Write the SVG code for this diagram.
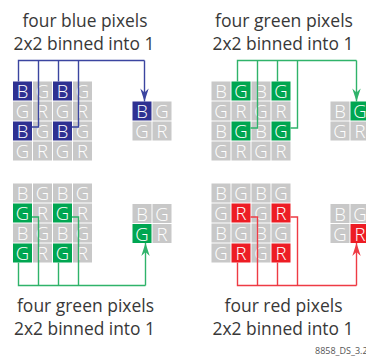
<svg xmlns="http://www.w3.org/2000/svg" width="366" height="356" viewBox="0 0 366 356">
<style>
.c{fill:#c8c8c8}
.b{fill:#2e3192}
.g{fill:#00a651}
.r{fill:#ed1c24}
.t{font-family:"Open Sans","Liberation Sans",sans-serif;font-weight:300;font-size:18.5px;fill:#fff;text-anchor:middle}
.h{font-family:"Open Sans","Liberation Sans",sans-serif;font-weight:400;font-size:19px;fill:#383838;text-anchor:middle}
.lb{fill:none;stroke:#3b45a0;stroke-width:1.4}
.lg{fill:none;stroke:#2fb36a;stroke-width:1.4}
.lr{fill:none;stroke:#ee3b44;stroke-width:1.4}
</style>
<defs>
<marker id="ab" markerUnits="userSpaceOnUse" markerWidth="16" markerHeight="12" viewBox="-14 -6 16 12" refX="0" refY="0" orient="auto"><path d="M0,0 L-13,-4.2 L-9,0 L-13,4.2 Z" fill="#3b45a0"/></marker>
<marker id="ag" markerUnits="userSpaceOnUse" markerWidth="16" markerHeight="12" viewBox="-14 -6 16 12" refX="0" refY="0" orient="auto"><path d="M0,0 L-13,-4.2 L-9,0 L-13,4.2 Z" fill="#2fb36a"/></marker>
<marker id="ar" markerUnits="userSpaceOnUse" markerWidth="16" markerHeight="12" viewBox="-14 -6 16 12" refX="0" refY="0" orient="auto"><path d="M0,0 L-13,-4.2 L-9,0 L-13,4.2 Z" fill="#ee3b44"/></marker>
</defs>

<g id="title-tl">
<text class="h" x="85" y="26.5" textLength="125" lengthAdjust="spacingAndGlyphs">four blue pixels</text>
<text class="h" x="84" y="50" textLength="141" lengthAdjust="spacingAndGlyphs">2x2 binned into 1</text>
</g>
<g id="title-tr">
<text class="h" x="284" y="26.5" textLength="138" lengthAdjust="spacingAndGlyphs">four green pixels</text>
<text class="h" x="283" y="50" textLength="141" lengthAdjust="spacingAndGlyphs">2x2 binned into 1</text>
</g>
<g id="title-bl">
<text class="h" x="85.5" y="311.5" textLength="137" lengthAdjust="spacingAndGlyphs">four green pixels</text>
<text class="h" x="84.5" y="335" textLength="141" lengthAdjust="spacingAndGlyphs">2x2 binned into 1</text>
</g>
<g id="title-br">
<text class="h" x="283.5" y="311.5" textLength="118" lengthAdjust="spacingAndGlyphs">four red pixels</text>
<text class="h" x="283" y="335" textLength="141" lengthAdjust="spacingAndGlyphs">2x2 binned into 1</text>
</g>

<g id="grid-tl">
<rect class="b" x="13" y="81.5" width="19" height="19"/><text class="t" x="22.5" y="98">B</text>
<rect class="c" x="33" y="81.5" width="19" height="19"/><text class="t" x="42.5" y="98">G</text>
<rect class="b" x="53" y="81.5" width="19" height="19"/><text class="t" x="62.5" y="98">B</text>
<rect class="c" x="73" y="81.5" width="19" height="19"/><text class="t" x="82.5" y="98">G</text>
<rect class="c" x="13" y="101.5" width="19" height="19"/><text class="t" x="22.5" y="118">G</text>
<rect class="c" x="33" y="101.5" width="19" height="19"/><text class="t" x="42.5" y="118">R</text>
<rect class="c" x="53" y="101.5" width="19" height="19"/><text class="t" x="62.5" y="118">G</text>
<rect class="c" x="73" y="101.5" width="19" height="19"/><text class="t" x="82.5" y="118">R</text>
<rect class="b" x="13" y="121.5" width="19" height="19"/><text class="t" x="22.5" y="138">B</text>
<rect class="c" x="33" y="121.5" width="19" height="19"/><text class="t" x="42.5" y="138">G</text>
<rect class="b" x="53" y="121.5" width="19" height="19"/><text class="t" x="62.5" y="138">B</text>
<rect class="c" x="73" y="121.5" width="19" height="19"/><text class="t" x="82.5" y="138">G</text>
<rect class="c" x="13" y="141.5" width="19" height="19"/><text class="t" x="22.5" y="158">G</text>
<rect class="c" x="33" y="141.5" width="19" height="19"/><text class="t" x="42.5" y="158">R</text>
<rect class="c" x="53" y="141.5" width="19" height="19"/><text class="t" x="62.5" y="158">G</text>
<rect class="c" x="73" y="141.5" width="19" height="19"/><text class="t" x="82.5" y="158">R</text>
</g>
<g id="small-tl">
<rect class="b" x="132.5" y="101.5" width="19" height="19"/><text class="t" x="142" y="118">B</text>
<rect class="c" x="152.5" y="101.5" width="19" height="19"/><text class="t" x="162" y="118">G</text>
<rect class="c" x="132.5" y="121.5" width="19" height="19"/><text class="t" x="142" y="138">G</text>
<rect class="c" x="152.5" y="121.5" width="19" height="19"/><text class="t" x="162" y="138">R</text>
</g>

<g id="grid-tr">
<rect class="c" x="211.5" y="81.5" width="19" height="19"/><text class="t" x="221" y="98">B</text>
<rect class="g" x="231.5" y="81.5" width="19" height="19"/><text class="t" x="241" y="98">G</text>
<rect class="c" x="251.5" y="81.5" width="19" height="19"/><text class="t" x="261" y="98">B</text>
<rect class="g" x="271.5" y="81.5" width="19" height="19"/><text class="t" x="281" y="98">G</text>
<rect class="c" x="211.5" y="101.5" width="19" height="19"/><text class="t" x="221" y="118">G</text>
<rect class="c" x="231.5" y="101.5" width="19" height="19"/><text class="t" x="241" y="118">R</text>
<rect class="c" x="251.5" y="101.5" width="19" height="19"/><text class="t" x="261" y="118">G</text>
<rect class="c" x="271.5" y="101.5" width="19" height="19"/><text class="t" x="281" y="118">R</text>
<rect class="c" x="211.5" y="121.5" width="19" height="19"/><text class="t" x="221" y="138">B</text>
<rect class="g" x="231.5" y="121.5" width="19" height="19"/><text class="t" x="241" y="138">G</text>
<rect class="c" x="251.5" y="121.5" width="19" height="19"/><text class="t" x="261" y="138">B</text>
<rect class="g" x="271.5" y="121.5" width="19" height="19"/><text class="t" x="281" y="138">G</text>
<rect class="c" x="211.5" y="141.5" width="19" height="19"/><text class="t" x="221" y="158">G</text>
<rect class="c" x="231.5" y="141.5" width="19" height="19"/><text class="t" x="241" y="158">R</text>
<rect class="c" x="251.5" y="141.5" width="19" height="19"/><text class="t" x="261" y="158">G</text>
<rect class="c" x="271.5" y="141.5" width="19" height="19"/><text class="t" x="281" y="158">R</text>
</g>
<g id="small-tr">
<rect class="c" x="330.5" y="101.5" width="19" height="19"/><text class="t" x="340" y="118">B</text>
<rect class="g" x="350.5" y="101.5" width="19" height="19"/><text class="t" x="360" y="118">G</text>
<rect class="c" x="330.5" y="121.5" width="19" height="19"/><text class="t" x="340" y="138">G</text>
<rect class="c" x="350.5" y="121.5" width="19" height="19"/><text class="t" x="360" y="138">R</text>
</g>

<g id="grid-bl">
<rect class="c" x="13" y="183.5" width="19" height="19"/><text class="t" x="22.5" y="200">B</text>
<rect class="c" x="33" y="183.5" width="19" height="19"/><text class="t" x="42.5" y="200">G</text>
<rect class="c" x="53" y="183.5" width="19" height="19"/><text class="t" x="62.5" y="200">B</text>
<rect class="c" x="73" y="183.5" width="19" height="19"/><text class="t" x="82.5" y="200">G</text>
<rect class="g" x="13" y="203.5" width="19" height="19"/><text class="t" x="22.5" y="220">G</text>
<rect class="c" x="33" y="203.5" width="19" height="19"/><text class="t" x="42.5" y="220">R</text>
<rect class="g" x="53" y="203.5" width="19" height="19"/><text class="t" x="62.5" y="220">G</text>
<rect class="c" x="73" y="203.5" width="19" height="19"/><text class="t" x="82.5" y="220">R</text>
<rect class="c" x="13" y="223.5" width="19" height="19"/><text class="t" x="22.5" y="240">B</text>
<rect class="c" x="33" y="223.5" width="19" height="19"/><text class="t" x="42.5" y="240">G</text>
<rect class="c" x="53" y="223.5" width="19" height="19"/><text class="t" x="62.5" y="240">B</text>
<rect class="c" x="73" y="223.5" width="19" height="19"/><text class="t" x="82.5" y="240">G</text>
<rect class="g" x="13" y="243.5" width="19" height="19"/><text class="t" x="22.5" y="260">G</text>
<rect class="c" x="33" y="243.5" width="19" height="19"/><text class="t" x="42.5" y="260">R</text>
<rect class="g" x="53" y="243.5" width="19" height="19"/><text class="t" x="62.5" y="260">G</text>
<rect class="c" x="73" y="243.5" width="19" height="19"/><text class="t" x="82.5" y="260">R</text>
</g>
<g id="small-bl">
<rect class="c" x="132.5" y="204" width="19" height="19"/><text class="t" x="142" y="220.5">B</text>
<rect class="c" x="152.5" y="204" width="19" height="19"/><text class="t" x="162" y="220.5">G</text>
<rect class="g" x="132.5" y="224" width="19" height="19"/><text class="t" x="142" y="240.5">G</text>
<rect class="c" x="152.5" y="224" width="19" height="19"/><text class="t" x="162" y="240.5">R</text>
</g>

<g id="grid-br">
<rect class="c" x="211.5" y="183.5" width="19" height="19"/><text class="t" x="221" y="200">B</text>
<rect class="c" x="231.5" y="183.5" width="19" height="19"/><text class="t" x="241" y="200">G</text>
<rect class="c" x="251.5" y="183.5" width="19" height="19"/><text class="t" x="261" y="200">B</text>
<rect class="c" x="271.5" y="183.5" width="19" height="19"/><text class="t" x="281" y="200">G</text>
<rect class="c" x="211.5" y="203.5" width="19" height="19"/><text class="t" x="221" y="220">G</text>
<rect class="r" x="231.5" y="203.5" width="19" height="19"/><text class="t" x="241" y="220">R</text>
<rect class="c" x="251.5" y="203.5" width="19" height="19"/><text class="t" x="261" y="220">G</text>
<rect class="r" x="271.5" y="203.5" width="19" height="19"/><text class="t" x="281" y="220">R</text>
<rect class="c" x="211.5" y="223.5" width="19" height="19"/><text class="t" x="221" y="240">B</text>
<rect class="c" x="231.5" y="223.5" width="19" height="19"/><text class="t" x="241" y="240">G</text>
<rect class="c" x="251.5" y="223.5" width="19" height="19"/><text class="t" x="261" y="240">B</text>
<rect class="c" x="271.5" y="223.5" width="19" height="19"/><text class="t" x="281" y="240">G</text>
<rect class="c" x="211.5" y="243.5" width="19" height="19"/><text class="t" x="221" y="260">G</text>
<rect class="r" x="231.5" y="243.5" width="19" height="19"/><text class="t" x="241" y="260">R</text>
<rect class="c" x="251.5" y="243.5" width="19" height="19"/><text class="t" x="261" y="260">G</text>
<rect class="r" x="271.5" y="243.5" width="19" height="19"/><text class="t" x="281" y="260">R</text>
</g>
<g id="small-br">
<rect class="c" x="330.5" y="204" width="19" height="19"/><text class="t" x="340" y="220.5">B</text>
<rect class="c" x="350.5" y="204" width="19" height="19"/><text class="t" x="360" y="220.5">G</text>
<rect class="c" x="330.5" y="224" width="19" height="19"/><text class="t" x="340" y="240.5">G</text>
<rect class="r" x="350.5" y="224" width="19" height="19"/><text class="t" x="360" y="240.5">R</text>
</g>

<g id="connectors">
<path class="lb" d="M18.5,81.5 V60.5 H144.5"/>
<path class="lb" d="M144.5,60.5 V101.5" marker-end="url(#ab)"/>
<path class="lb" d="M32,127 H38.5 V60.5"/>
<path class="lb" d="M58.5,81.5 V60.5"/>
<path class="lb" d="M72,127 H78.5 V60.5"/>

<path class="lg" d="M237.5,81.5 V60.5 H356.5"/>
<path class="lg" d="M356.5,60.5 V101.5" marker-end="url(#ag)"/>
<path class="lg" d="M250.5,128 H257.5 V60.5"/>
<path class="lg" d="M277.5,81.5 V60.5"/>
<path class="lg" d="M290.5,128 H297.5 V60.5"/>

<path class="lg" d="M18.5,262.5 V285.5 H145.5"/>
<path class="lg" d="M145.5,285.5 V243" marker-end="url(#ag)"/>
<path class="lg" d="M32,217 H38.5 V285.5"/>
<path class="lg" d="M58.5,262.5 V285.5"/>
<path class="lg" d="M72,217 H78.5 V285.5"/>

<path class="lr" d="M237.5,262.5 V285.5 H356.5"/>
<path class="lr" d="M356.5,285.5 V243" marker-end="url(#ar)"/>
<path class="lr" d="M250.5,217 H257.5 V285.5"/>
<path class="lr" d="M277.5,262.5 V285.5"/>
<path class="lr" d="M290.5,217 H297.5 V285.5"/>
</g>

<text x="315" y="354" style="font-family:'Open Sans','Liberation Sans',sans-serif;font-size:9px;fill:#555">8858_DS_3.2</text>
</svg>
